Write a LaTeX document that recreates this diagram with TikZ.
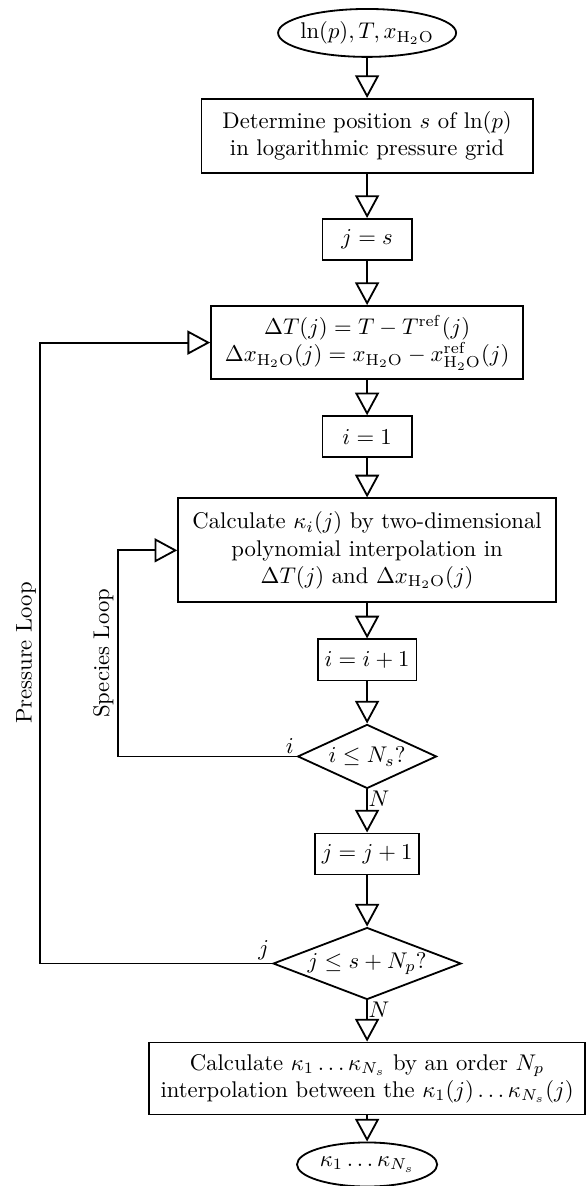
\documentclass[tikz,border=0pt]{standalone}
\usepackage{amsmath,amssymb}
\usetikzlibrary{arrows.meta,positioning,shapes.geometric}
\tikzset{
  flow/.style={-{Triangle[open,length=10pt,width=10.6pt]},thick},
  block/.style={draw,thick,rectangle,align=center,inner xsep=3pt,inner ysep=4pt},
  counter/.style={block,minimum width=13.8mm,minimum height=6.36mm},
  io/.style={draw,thick,ellipse,inner xsep=-2pt,inner ysep=0pt},
  decision/.style={draw,thick,diamond,aspect=2.6,inner sep=0pt},
  looptext/.style={above,sloped,pos=0.25,inner sep=1.5pt},
  tag/.style={inner sep=1pt},
  ntag/.style={inner sep=0.3pt}
}
\begin{document}
\begin{tikzpicture}[node distance=7mm]
  \useasboundingbox (-161.7pt,14.5pt) rectangle (96.5pt,-507.9pt);
  \node[io,minimum width=27.56mm,minimum height=7.42mm] (in) {$\ln(p), T, x_{\mathrm{H_2O}}$};
  \node[block,minimum width=51.25mm,minimum height=11.46mm,below=6.22mm of in] (grid) {Determine position $s$ of $\ln(p)$\\in logarithmic pressure grid};
  \node[counter,below=6.84mm of grid] (js) {$j=s$};
  \node[block,minimum width=48.3mm,minimum height=11.14mm,below=6.84mm of js] (delta) {$\Delta T(j) = T - T^{\mathrm{ref}}(j)$\\$\Delta x_{\mathrm{H_2O}}(j) = x_{\mathrm{H_2O}} - x^{\mathrm{ref}}_{\mathrm{H_2O}}(j)$};
  \node[counter,below=5.45mm of delta] (ione) {$i=1$};
  \node[block,minimum width=58.5mm,minimum height=16.1mm,below=6.07mm of ione] (calc) {Calculate $\kappa_i(j)$ by two-dimensional\\polynomial interpolation in\\$\Delta T(j)$ and $\Delta x_{\mathrm{H_2O}}(j)$};
  \node[counter,below=5.45mm of calc] (inci) {$i=i+1$};
  \node[decision,minimum width=21.5mm,minimum height=9.91mm,below=6.53mm of inci] (di) {$i \leq N_s?$};
  \node[counter,below=6.68mm of di] (incj) {$j=j+1$};
  \node[decision,minimum width=29.1mm,minimum height=11.14mm,below=7.93mm of incj] (dj) {$j \leq s+N_p?$};
  \node[block,minimum width=67.5mm,minimum height=11.14mm,below=6.38mm of dj] (final) {Calculate $\kappa_1 \ldots \kappa_{N_s}$ by an order $N_p$\\interpolation between the $\kappa_1(j) \ldots \kappa_{N_s}(j)$};
  \node[io,minimum width=21.7mm,minimum height=6.82mm,below=4.05mm of final] (out) {$\kappa_1 \ldots \kappa_{N_s}$};

  \draw[flow] (in) -- (grid);
  \draw[flow] (grid) -- (js);
  \draw[flow] (js) -- (delta);
  \draw[flow] (delta) -- (ione);
  \draw[flow] (ione) -- (calc);
  \draw[flow] (calc) -- (inci);
  \draw[flow] (inci) -- (di);
  \draw[flow] (di.south) -- node[pos=0,ntag,below right] (nlabeli) {$N$} (incj);
  \draw[flow] (incj) -- (dj);
  \draw[flow] (dj.south) -- node[pos=0,ntag,below right] (nlabelj) {$N$} (final);
  \draw[flow] (final) -- (out);

  % loops back to the left
  \draw[flow] (di.west) node[tag,above left] (ilabel) {$i$} -- ++(-27.7mm,0) |- node[looptext] (species) {Species Loop} (calc.west);
  \draw[flow] (dj.west) node[tag,above left] (jlabel) {$j$} -- ++(-35.9mm,0) |- node[looptext] (pressure) {Pressure Loop} (delta.west);
\end{tikzpicture}
\end{document}
